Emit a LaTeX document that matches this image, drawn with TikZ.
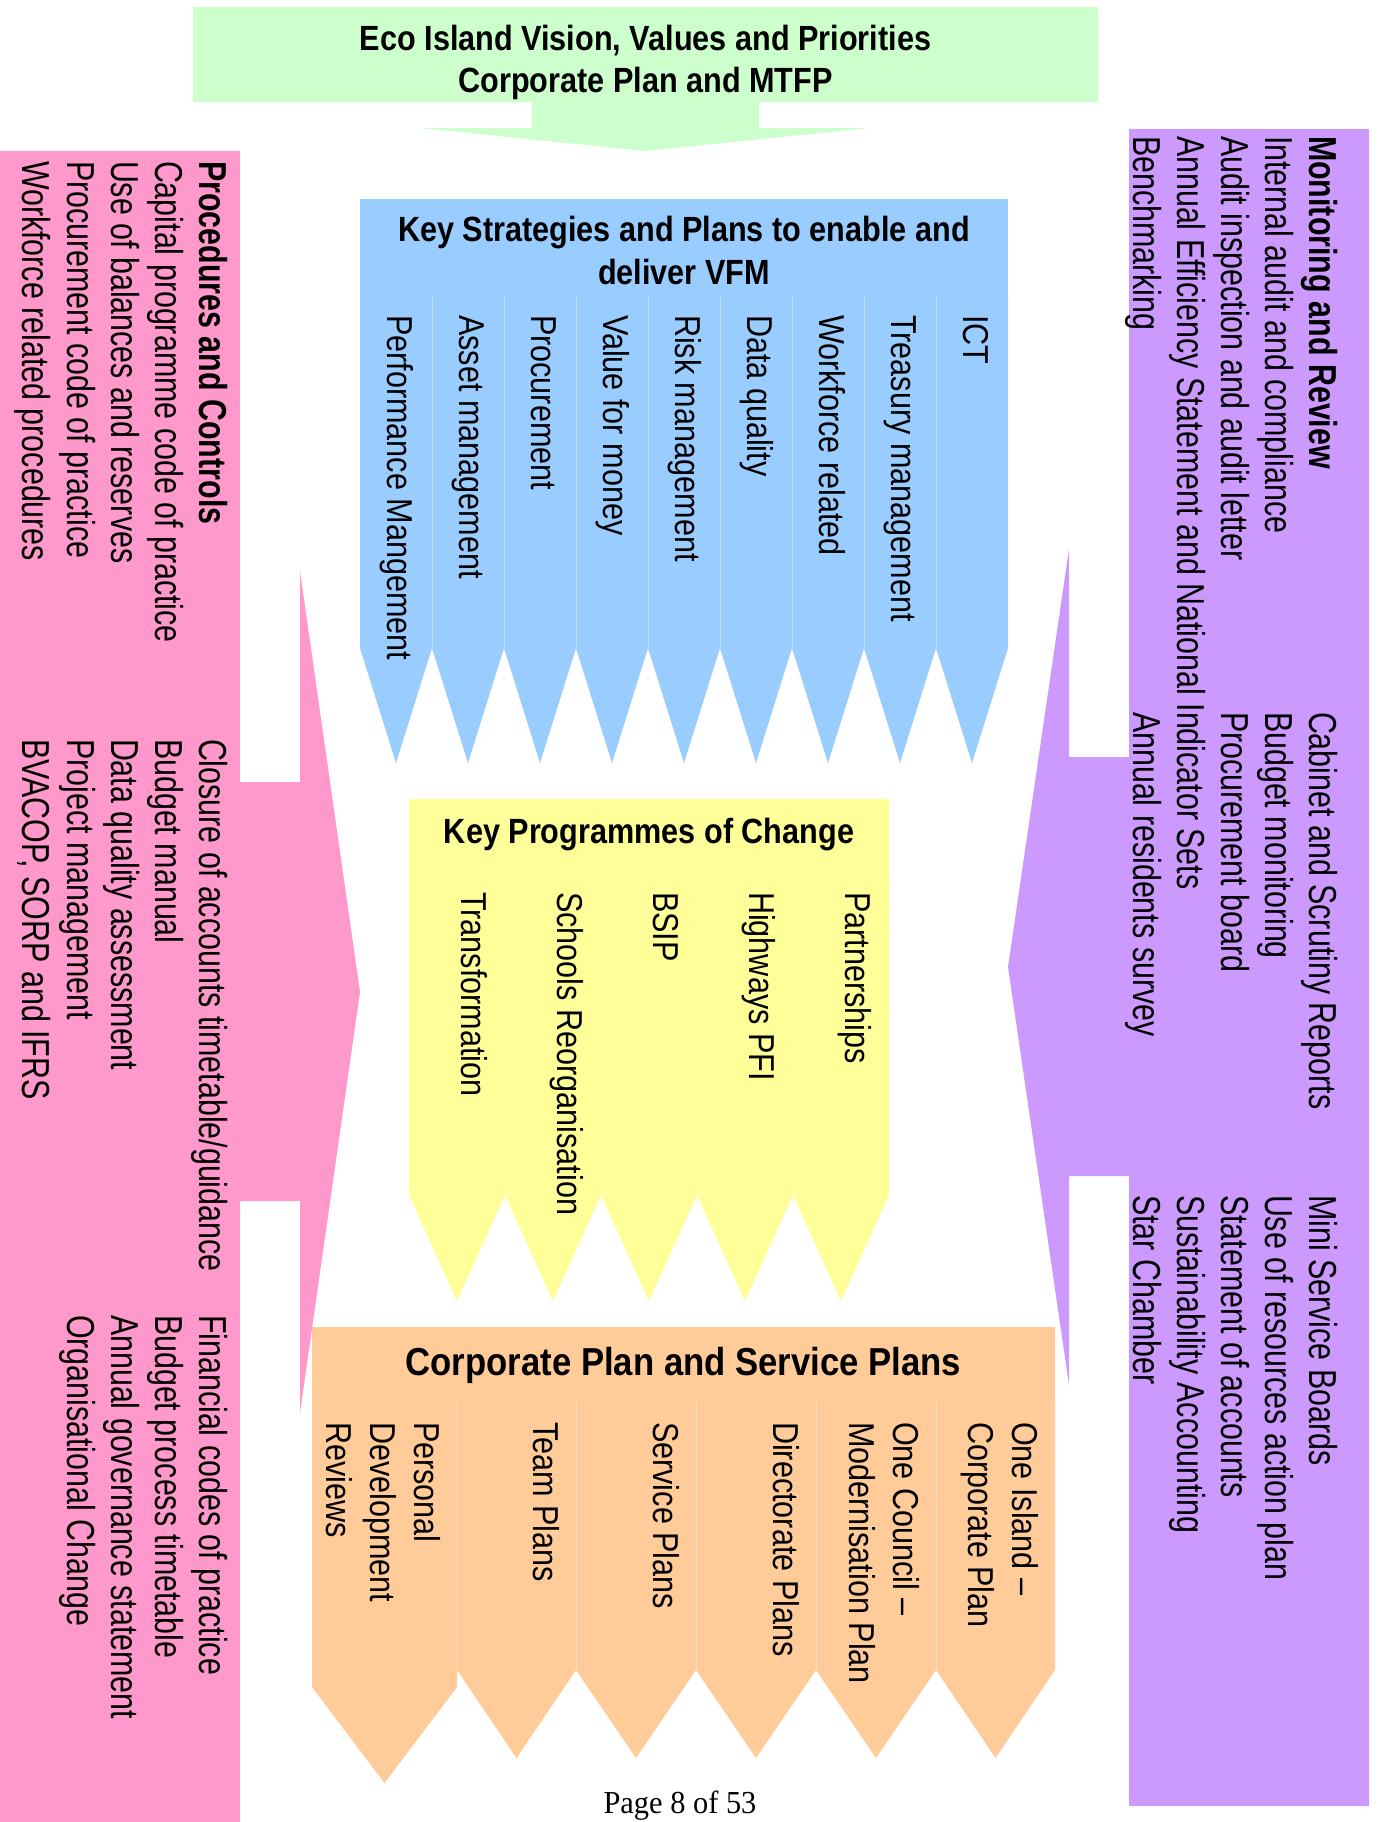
\documentclass[tikz,border=0pt]{standalone}
\usepackage{fontspec}
\setmainfont{Liberation Sans}
\newfontfamily\sidefont[FakeStretch=0.78]{Liberation Sans}
\newfontfamily\colfont[FakeStretch=0.85]{Liberation Sans}
\newfontfamily\headfont[FakeStretch=0.875]{Liberation Sans}
\newfontfamily\oheadfont[FakeStretch=0.89]{Liberation Sans}
\newfontfamily\pagefont[FakeStretch=0.95]{Liberation Serif}
\definecolor{cgreen}{HTML}{CCFFCC}
\definecolor{cblue}{HTML}{99CCFF}
\definecolor{cyellow}{HTML}{FFFF99}
\definecolor{corange}{HTML}{FFCC99}
\definecolor{cpink}{HTML}{FF99CC}
\definecolor{cpurple}{HTML}{CC99FF}
\tikzset{
  rt/.style={rotate=-90, anchor=base west, inner sep=0pt, outer sep=0pt},
  side/.style={rt, font=\sidefont\fontsize{19.5pt}{22pt}\selectfont},
  sidebold/.style={rt, font=\sidefont\bfseries\fontsize{19.5pt}{22pt}\selectfont},
  coltext/.style={rt, font=\colfont\fontsize{18pt}{22pt}\selectfont},
  headtext/.style={anchor=base, inner sep=0pt, font=\headfont\bfseries\fontsize{17.5pt}{21pt}\selectfont},
  oheadtext/.style={anchor=base, inner sep=0pt, font=\oheadfont\bfseries\fontsize{19.5pt}{22pt}\selectfont},
  sepline/.style={draw=white, draw opacity=0.35, line width=0.5pt},
}
\newcommand\colshape[6]{%
  \fill[#6] (#1,#3) -- (#2,#3) -- (#2,#4) -- ({(#1+#2)/2},#5) -- (#1,#4) -- cycle;
}
\begin{document}
\begin{tikzpicture}[x=0.5pt, y=-0.5pt]
\useasboundingbox (0,0) rectangle (1379,1822);
\fill[white] (0,0) rectangle (1379,1822);

% ---------- side arrows ----------
\fill[cpink] (0,151) -- (240,151) -- (240,782) -- (300,782) -- (300,571) -- (360,992)
  -- (300,1413) -- (300,1201) -- (240,1201) -- (240,1822) -- (0,1822) -- cycle;
\fill[cpurple] (1369,129) -- (1129,129) -- (1129,757) -- (1069,757) -- (1069,549) -- (1008,967)
  -- (1069,1385) -- (1069,1176) -- (1129,1176) -- (1129,1806) -- (1369,1806) -- cycle;

% ---------- top green arrow ----------
\fill[cgreen] (193,7) -- (1098,7) -- (1098,102) -- (759,102) -- (759,128) -- (869,128)
  -- (645,151) -- (421,128) -- (532,128) -- (532,102) -- (193,102) -- cycle;
\node[headtext] (g1) at (645.5,50) {Eco Island Vision, Values and Priorities};
\node[headtext] (g2) at (645.5,92) {Corporate Plan and MTFP};

% ---------- blue block ----------
\fill[cblue] (360,199) rectangle (1008,296);
\foreach \i in {0,...,8}{
  \pgfmathsetmacro\xa{360+72*\i}
  \pgfmathsetmacro\xb{432+72*\i}
  \colshape{\xa}{\xb}{296}{648}{763}{cblue}
}
\foreach \i in {1,...,8}{
  \draw[sepline] ({360+72*\i},296) -- ({360+72*\i},648);
}
\node[headtext] (bh1) at (684,241) {Key Strategies and Plans to enable and};
\node[headtext] (bh2) at (684,284) {deliver VFM};
\node[coltext] (b1) at (387,315) {Performance Mangement};
\node[coltext] (b2) at (459,315) {Asset management};
\node[coltext] (b3) at (531,315) {Procurement};
\node[coltext] (b4) at (603,315) {Value for money};
\node[coltext] (b5) at (675,315) {Risk management};
\node[coltext] (b6) at (747,315) {Data quality};
\node[coltext] (b7) at (819,315) {Workforce related};
\node[coltext] (b8) at (891,315) {Treasury management};
\node[coltext] (b9) at (963,315) {ICT};

% ---------- yellow block ----------
\fill[cyellow] (409,799) rectangle (889,871);
\foreach \i in {0,...,4}{
  \pgfmathsetmacro\xa{409+96*\i}
  \pgfmathsetmacro\xb{505+96*\i}
  \colshape{\xa}{\xb}{871}{1195}{1301}{cyellow}
}
\foreach \i in {1,...,4}{
  \draw[sepline] ({409+96*\i},871) -- ({409+96*\i},1195);
}
\node[headtext] (yh) at (649,843) {Key Programmes of Change};
\node[coltext] (y1) at (461,892) {Transformation};
\node[coltext] (y2) at (557,892) {Schools Reorganisation};
\node[coltext] (y3) at (653,892) {BSIP};
\node[coltext] (y4) at (749,892) {Highways PFI};
\node[coltext] (y5) at (845,892) {Partnerships};

% ---------- orange block ----------
\fill[corange] (312,1327) rectangle (1055,1400);
\colshape{312}{457}{1400}{1687}{1783}{corange}
\colshape{457}{576}{1400}{1670}{1758}{corange}
\colshape{576}{696}{1400}{1670}{1758}{corange}
\colshape{696}{816}{1400}{1670}{1758}{corange}
\colshape{816}{936}{1400}{1670}{1758}{corange}
\colshape{936}{1055}{1400}{1670}{1758}{corange}
\foreach \xx in {457,576,696,816,936}{
  \draw[sepline] (\xx,1400) -- (\xx,1670);
}
\node[oheadtext] (oh) at (683.5,1375) {Corporate Plan and Service Plans};
\node[coltext] (o1a) at (414,1422) {Personal};
\node[coltext] (o1b) at (370,1422) {Development};
\node[coltext] (o1c) at (326,1422) {Reviews};
\node[coltext] (o2) at (533,1422) {Team Plans};
\node[coltext] (o3) at (653,1422) {Service Plans};
\node[coltext] (o4) at (773,1422) {Directorate Plans};
\node[coltext] (o5a) at (893,1422) {One Council –};
\node[coltext] (o5b) at (849,1422) {Modernisation Plan};
\node[coltext] (o6a) at (1012,1422) {One Island –};
\node[coltext] (o6b) at (968,1422) {Corporate Plan};

% ---------- pink text ----------
\node[sidebold] (p11) at (199,161) {Procedures and Controls};
\node[side] (p12) at (155,161) {Capital programme code of practice};
\node[side] (p13) at (111,161) {Use of balances and reserves};
\node[side] (p14) at (67,161) {Procurement code of practice};
\node[side] (p15) at (23,161) {Workforce related procedures};
\node[side] (p21) at (199,739) {Closure of accounts timetable/guidance};
\node[side] (p22) at (155,739) {Budget manual};
\node[side] (p23) at (111,739) {Data quality assessment};
\node[side] (p24) at (67,739) {Project management};
\node[side] (p25) at (23,739) {BVACOP, SORP and IFRS};
\node[side] (p31) at (199,1315) {Financial codes of practice};
\node[side] (p32) at (155,1315) {Budget process timetable};
\node[side] (p33) at (111,1315) {Annual governance statement};
\node[side] (p34) at (67,1315) {Organisational Change};

% ---------- purple text ----------
\node[sidebold] (m11) at (1309,136) {Monitoring and Review};
\node[side] (m12) at (1265,136) {Internal audit and compliance};
\node[side] (m13) at (1221,136) {Audit inspection and audit letter};
\node[side] (m14) at (1177,136) {Annual Efficiency Statement and National Indicator Sets};
\node[side] (m15) at (1133,136) {Benchmarking};
\node[side] (m21) at (1309,712) {Cabinet and Scrutiny Reports};
\node[side] (m22) at (1265,712) {Budget monitoring};
\node[side] (m23) at (1221,712) {Procurement board};
\node[side] (m25) at (1133,712) {Annual residents survey};
\node[side] (m31) at (1309,1195) {Mini Service Boards};
\node[side] (m32) at (1265,1195) {Use of resources action plan};
\node[side] (m33) at (1221,1195) {Statement of accounts};
\node[side] (m34) at (1177,1195) {Sustainability Accounting};
\node[side] (m35) at (1133,1195) {Star Chamber};

% ---------- page number ----------
\node[anchor=base, inner sep=0pt, font=\pagefont\fontsize{16pt}{18pt}\selectfont] (page) at (680,1813) {Page 8 of 53};
\end{tikzpicture}
\end{document}
